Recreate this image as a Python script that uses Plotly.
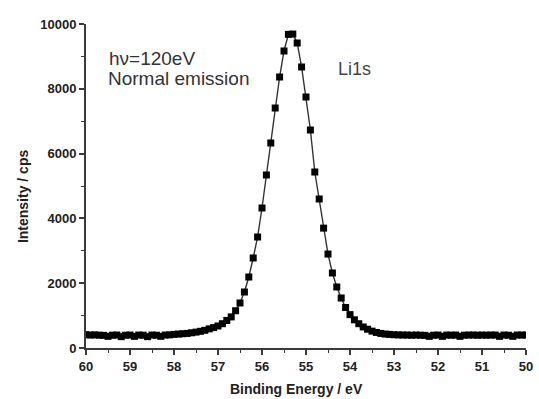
import plotly.graph_objects as go

# Li 1s core-level spectrum, hv = 120 eV, normal emission (0.1 eV steps, 60 -> 50 eV)
binding_energy = [round(60 - 0.1 * i, 1) for i in range(101)]
intensity = [
    410, 400, 405, 395, 390, 360, 395, 400, 350, 395,      # 60.0 - 59.1
    400, 360, 400, 395, 350, 400, 395, 360, 400, 405,      # 59.0 - 58.1
    420, 430, 440, 450, 470, 490, 515, 545, 590, 630,      # 58.0 - 57.1
    680, 750, 850, 960, 1150, 1389, 1728, 2191, 2778, 3426,  # 57.0 - 56.1
    4321, 5340, 6327, 7407, 8364, 9167, 9680, 9690, 9414, 8673,  # 56.0 - 55.1
    7747, 6728, 5432, 4599, 3700, 2900, 2315, 1883, 1543, 1250,  # 55.0 - 54.1
    1030, 870, 750, 650, 580, 520, 480, 450, 430, 420,     # 54.0 - 53.1
    410, 405, 400, 400, 395, 400, 395, 390, 360, 395,      # 53.0 - 52.1
    400, 360, 400, 395, 400, 360, 395, 400, 400, 395,      # 52.0 - 51.1
    400, 395, 400, 400, 360, 400, 395, 360, 400, 400,      # 51.0 - 50.1
    400,                                                    # 50.0
]

x_ticks = list(range(50, 61))
y_ticks = [0, 2000, 4000, 6000, 8000, 10000]

axis_color = "#3a3a3a"
font_main = "Liberation Sans, Arial, sans-serif"

fig = go.Figure()
fig.add_trace(go.Scatter(
    x=binding_energy, y=intensity,
    mode="lines+markers",
    line=dict(color="#333333", width=1.4),
    marker=dict(symbol="square", size=7, color="black"),
    showlegend=False,
))

fig.update_layout(
    width=539, height=399,
    margin=dict(l=86, r=6, t=24, b=51),
    paper_bgcolor="white", plot_bgcolor="white",
    font=dict(family=font_main, color="#222222"),
    xaxis=dict(
        range=[60, 50], showgrid=False, zeroline=False,
        showline=True, linecolor=axis_color, linewidth=2,
        ticks="outside", ticklen=5, tickwidth=1.5, tickcolor=axis_color,
        tickvals=x_ticks, ticktext=[f"<b>{v}</b>" for v in x_ticks],
        tickfont=dict(size=13, color="#222222"),
        ticklabeloverflow="allow",
        minor=dict(dtick=0.5, ticks="outside", ticklen=3, tickcolor=axis_color, tickwidth=1),
    ),
    yaxis=dict(
        range=[0, 10000], showgrid=False, zeroline=False,
        showline=True, linecolor=axis_color, linewidth=2,
        ticks="outside", ticklen=5, tickwidth=1.5, tickcolor=axis_color,
        tickvals=y_ticks, ticktext=[f"<b>{v}</b>" for v in y_ticks],
        tickfont=dict(size=13, color="#222222"),
        ticklabeloverflow="allow",
        minor=dict(dtick=1000, ticks="outside", ticklen=3, tickcolor=axis_color, tickwidth=1),
    ),
)

# axis titles
fig.add_annotation(text="<b>Binding Energy / eV</b>", xref="paper", yref="paper",
                   x=0.478, y=-0.127, xanchor="center", yanchor="middle",
                   showarrow=False, font=dict(size=14, color="#222222"))
fig.add_annotation(text="<b>Intensity / cps</b>", xref="paper", yref="paper",
                   x=-0.143, y=0.469, xanchor="center", yanchor="middle", textangle=-90,
                   showarrow=False, font=dict(size=14, color="#222222"))

# in-plot labels
fig.add_annotation(text="hν=120eV", xref="x", yref="y", x=59.53, y=8950,
                   xanchor="left", yanchor="middle", showarrow=False,
                   font=dict(size=19, color="#333333"))
fig.add_annotation(text="Normal emission", xref="x", yref="y", x=59.55, y=8333,
                   xanchor="left", yanchor="middle", showarrow=False,
                   font=dict(size=19, color="#333333"))
fig.add_annotation(text="Li1s", xref="x", yref="y", x=54.32, y=8611,
                   xanchor="left", yanchor="middle", showarrow=False,
                   font=dict(size=18, color="#444444"))

fig.write_html("out.html")
